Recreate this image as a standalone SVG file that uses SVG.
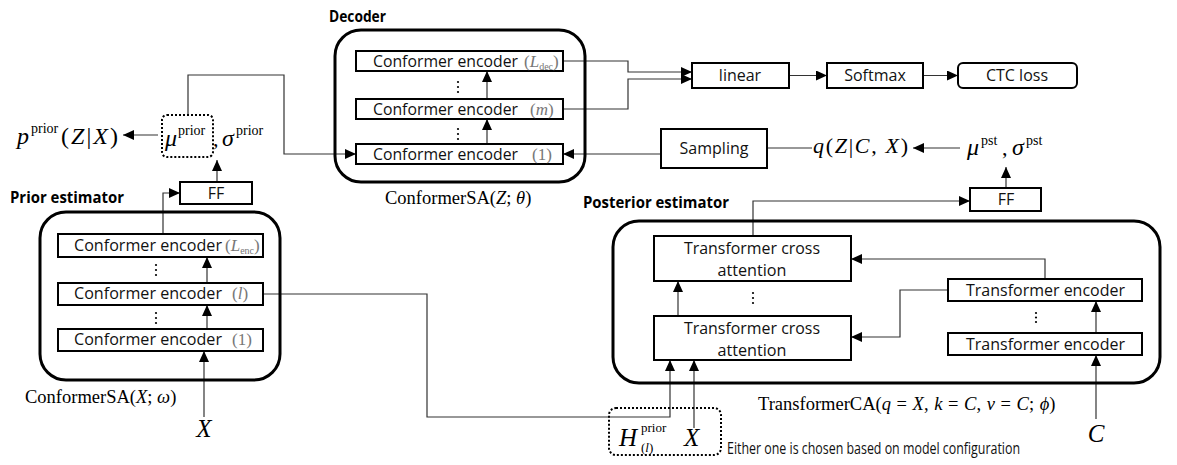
<svg xmlns="http://www.w3.org/2000/svg" width="1177" height="465" viewBox="0 0 1177 465">
<style>
.box{fill:#fff;stroke:#000;stroke-width:2}
.grp{fill:none;stroke:#000;stroke-width:3}
.sans{font-family:"Open Sans","Noto Sans",sans-serif;font-size:16px;fill:#111}
.bold{font-family:"Open Sans","Noto Sans",sans-serif;font-size:16px;font-weight:bold;fill:#000}
.serif{font-family:"Liberation Serif","DejaVu Serif",serif;fill:#000}
.it{font-style:italic}
.gm{fill:#777}
.ln{fill:none;stroke:#333;stroke-width:1.2}
.arr{marker-end:url(#ah)}
.dotbox{fill:none;stroke:#000;stroke-width:2;stroke-dasharray:2 2}
.dt{fill:#000}
</style>
<defs>
<marker id="ah" markerWidth="11" markerHeight="10" refX="11" refY="5" orient="auto" markerUnits="userSpaceOnUse"><path d="M0,0 L11,5 L0,10 z" fill="#000"/></marker>
</defs>

<g id="connectors">
<path class="ln arr" d="M563,61 H628 V72 H692"/>
<path class="ln arr" d="M563,109 H628 V79 H692"/>
<path class="ln arr" d="M789,75.5 H827"/>
<path class="ln arr" d="M923,75.5 H958"/>
<path class="ln arr" d="M661,154 H563"/>
<path class="ln" d="M767,148 H812"/>
<path class="ln arr" d="M960,148 H913"/>
<path class="ln arr" d="M1006,188 V167"/>
<path class="ln arr" d="M753,236 V201 H970"/>
<path class="ln arr" d="M1045,279 V259 H851"/>
<path class="ln arr" d="M948,290 H900 V337 H851"/>
<path class="ln arr" d="M1096,333 V301"/>
<path class="ln arr" d="M1096,419 V355"/>
<path class="ln arr" d="M263,294 H427 V417 H670 V360"/>
<path class="ln arr" d="M694,428 V360"/>
<path class="ln arr" d="M678,316 V281"/>
<path class="ln arr" d="M204,417 V351"/>
<path class="ln arr" d="M207,329 V305"/>
<path class="ln arr" d="M207,283 V257"/>
<path class="ln arr" d="M163,234 V193 H180"/>
<path class="ln arr" d="M217,182 V160"/>
<path class="ln arr" d="M188,115 V75 H284 V154 H356"/>
<path class="ln arr" d="M158,135 H123"/>
<path class="ln arr" d="M487,144 V119"/>
<path class="ln arr" d="M487,99 V71"/>
</g>

<g id="decoder">
<rect class="grp" x="335" y="30" width="250" height="152" rx="26"/>
<text class="bold" x="329" y="22" textLength="57" lengthAdjust="spacingAndGlyphs">Decoder</text>
<rect class="box" x="356" y="51" width="207" height="20"/>
<text class="sans" x="373" y="67" textLength="145" lengthAdjust="spacingAndGlyphs">Conformer encoder</text>
<text class="serif gm" x="524" y="67" font-size="17">(<tspan class="it">L</tspan><tspan font-size="10" dy="3">dec</tspan><tspan dy="-3">)</tspan></text>
<rect class="box" x="356" y="99" width="207" height="20"/>
<text class="sans" x="373" y="115" textLength="145" lengthAdjust="spacingAndGlyphs">Conformer encoder</text>
<text class="serif gm" x="530" y="115" font-size="17">(<tspan class="it">m</tspan>)</text>
<rect class="box" x="356" y="144" width="207" height="20"/>
<text class="sans" x="373" y="160" textLength="145" lengthAdjust="spacingAndGlyphs">Conformer encoder</text>
<text class="serif gm" x="532" y="160" font-size="17">(1)</text>
<circle class="dt" cx="458" cy="82" r="1.1"/><circle class="dt" cx="458" cy="87" r="1.1"/><circle class="dt" cx="458" cy="92" r="1.1"/>
<circle class="dt" cx="458" cy="129" r="1.1"/><circle class="dt" cx="458" cy="134" r="1.1"/><circle class="dt" cx="458" cy="139" r="1.1"/>
<text class="serif" x="385" y="204" font-size="18.5">ConformerSA(<tspan class="it">Z</tspan>; <tspan class="it">θ</tspan>)</text>
</g>

<g id="linear">
<rect class="box" x="692" y="63" width="97" height="25"/>
<text class="sans" x="740" y="81" text-anchor="middle">linear</text>
</g>
<g id="softmax">
<rect class="box" x="827" y="63" width="96" height="25"/>
<text class="sans" x="875" y="81" text-anchor="middle">Softmax</text>
</g>
<g id="ctc">
<rect class="box" x="958" y="63" width="119" height="25" rx="5"/>
<text class="sans" x="1017" y="81" text-anchor="middle">CTC loss</text>
</g>
<g id="sampling">
<rect class="box" x="661" y="129" width="106" height="39"/>
<text class="sans" x="714" y="154" text-anchor="middle">Sampling</text>
</g>

<g id="q-dist">
<text class="serif" x="813" y="153" font-size="22" textLength="95"><tspan class="it">q</tspan>(<tspan class="it">Z</tspan>|<tspan class="it">C</tspan>, <tspan class="it">X</tspan>)</text>
</g>
<g id="mu-pst">
<text class="serif it" x="967" y="155" font-size="24">μ</text>
<text class="serif" x="981" y="145" font-size="14">pst</text>
<text class="serif" x="1002" y="155" font-size="22">,</text>
<text class="serif it" x="1012" y="155" font-size="24">σ</text>
<text class="serif" x="1026" y="145" font-size="14">pst</text>
</g>

<g id="p-prior">
<text class="serif it" x="17" y="144" font-size="24">p</text>
<text class="serif" x="31" y="133" font-size="14">prior</text>
<text class="serif" x="61" y="144" font-size="24" textLength="57">(<tspan class="it">Z</tspan>|<tspan class="it">X</tspan>)</text>
</g>
<g id="mu-prior">
<rect class="dotbox" x="162" y="115" width="51" height="42" rx="5"/>
<text class="serif it" x="165" y="146" font-size="24">μ</text>
<text class="serif" x="178" y="135" font-size="14">prior</text>
<text class="serif" x="213" y="146" font-size="22">,</text>
<text class="serif it" x="222" y="146" font-size="24">σ</text>
<text class="serif" x="236" y="135" font-size="14">prior</text>
</g>

<g id="ff-prior">
<rect class="box" x="180" y="182" width="72" height="22"/>
<text class="sans" x="216" y="199" text-anchor="middle">FF</text>
</g>

<g id="prior-estimator">
<text class="bold" x="10" y="203" textLength="114" lengthAdjust="spacingAndGlyphs">Prior estimator</text>
<rect class="grp" x="40" y="212" width="240" height="168" rx="26"/>
<rect class="box" x="58" y="234" width="205" height="23"/>
<text class="sans" x="74" y="251" textLength="148" lengthAdjust="spacingAndGlyphs">Conformer encoder</text>
<text class="serif gm" x="225" y="251" font-size="17">(<tspan class="it">L</tspan><tspan font-size="10" dy="3">enc</tspan><tspan dy="-3">)</tspan></text>
<rect class="box" x="58" y="283" width="205" height="22"/>
<text class="sans" x="74" y="299" textLength="148" lengthAdjust="spacingAndGlyphs">Conformer encoder</text>
<text class="serif gm" x="232" y="299" font-size="17">(<tspan class="it">l</tspan>)</text>
<rect class="box" x="58" y="329" width="205" height="22"/>
<text class="sans" x="74" y="345" textLength="148" lengthAdjust="spacingAndGlyphs">Conformer encoder</text>
<text class="serif gm" x="232" y="345" font-size="17">(1)</text>
<circle class="dt" cx="156" cy="265" r="1.1"/><circle class="dt" cx="156" cy="270" r="1.1"/><circle class="dt" cx="156" cy="275" r="1.1"/>
<circle class="dt" cx="156" cy="313" r="1.1"/><circle class="dt" cx="156" cy="318" r="1.1"/><circle class="dt" cx="156" cy="323" r="1.1"/>
<text class="serif" x="25" y="403" font-size="18.5">ConformerSA(<tspan class="it">X</tspan>; <tspan class="it">ω</tspan>)</text>
</g>

<g id="x-prior">
<text class="serif it" x="204" y="437" font-size="25" text-anchor="middle">X</text>
</g>

<g id="ff-posterior">
<rect class="box" x="970" y="188" width="71" height="23"/>
<text class="sans" x="1006" y="205" text-anchor="middle">FF</text>
</g>

<g id="posterior-estimator">
<text class="bold" x="583" y="208" textLength="146" lengthAdjust="spacingAndGlyphs">Posterior estimator</text>
<rect class="grp" x="613" y="221" width="547" height="162" rx="26"/>
<rect class="box" x="654" y="236" width="197" height="45"/>
<text class="sans" x="752" y="254" text-anchor="middle" textLength="136" lengthAdjust="spacingAndGlyphs">Transformer cross</text>
<text class="sans" x="752" y="276" text-anchor="middle" textLength="69" lengthAdjust="spacingAndGlyphs">attention</text>
<rect class="box" x="654" y="316" width="197" height="44"/>
<text class="sans" x="752" y="334" text-anchor="middle" textLength="136" lengthAdjust="spacingAndGlyphs">Transformer cross</text>
<text class="sans" x="752" y="356" text-anchor="middle" textLength="69" lengthAdjust="spacingAndGlyphs">attention</text>
<circle class="dt" cx="753" cy="293" r="1.1"/><circle class="dt" cx="753" cy="298" r="1.1"/><circle class="dt" cx="753" cy="303" r="1.1"/>
<rect class="box" x="948" y="279" width="194" height="22"/>
<text class="sans" x="966" y="296" textLength="159" lengthAdjust="spacingAndGlyphs">Transformer encoder</text>
<rect class="box" x="948" y="333" width="194" height="22"/>
<text class="sans" x="966" y="350" textLength="159" lengthAdjust="spacingAndGlyphs">Transformer encoder</text>
<circle class="dt" cx="1036" cy="313" r="1.1"/><circle class="dt" cx="1036" cy="317.5" r="1.1"/><circle class="dt" cx="1036" cy="322" r="1.1"/>
<text class="serif" x="758" y="410" font-size="18.5" word-spacing="1">TransformerCA(<tspan class="it">q</tspan> = <tspan class="it">X</tspan>, <tspan class="it">k</tspan> = <tspan class="it">C</tspan>, <tspan class="it">v</tspan> = <tspan class="it">C</tspan>; <tspan class="it">ϕ</tspan>)</text>
</g>

<g id="c-input">
<text class="serif it" x="1096" y="442" font-size="25" text-anchor="middle">C</text>
</g>

<g id="choice">
<rect class="dotbox" x="609" y="408" width="112" height="47" rx="7"/>
<text class="serif it" x="619" y="446" font-size="25">H</text>
<text class="serif" x="641" y="432" font-size="13">prior</text>
<text class="serif" x="641" y="452" font-size="13">(<tspan class="it">l</tspan>)</text>
<text class="serif it" x="684" y="446" font-size="25">X</text>
<text class="sans" x="727" y="454" font-size="11.5" textLength="293" lengthAdjust="spacingAndGlyphs">Either one is chosen based on model configuration</text>
</g>
</svg>
